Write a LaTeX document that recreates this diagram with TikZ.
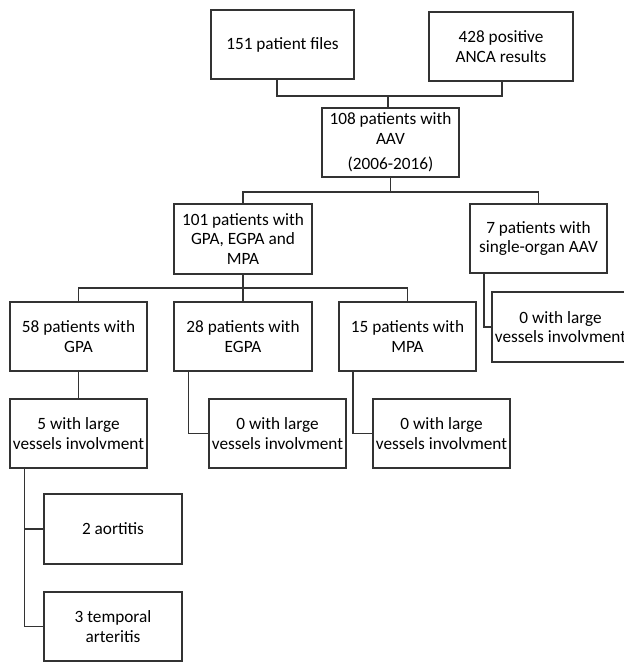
\documentclass[tikz,border=0pt]{standalone}
\usepackage{fontspec}
\setmainfont{Carlito}
\begin{document}
\begin{tikzpicture}[x=1bp,y=-1bp,
  box/.style={draw=black!80, line width=1.1bp, minimum width=137bp, minimum height=69bp,
    inner sep=0pt, align=center, font=\fontsize{17.25bp}{19.5bp}\selectfont},
  conn/.style={draw=black!80, line width=1.1bp}]
\useasboundingbox (0,0) rectangle (624,662);
\fill[white] (0,0) rectangle (624,662);
% boxes
\node[box, minimum width=143bp] (A) at (282.5,44.5) {151 patient files};
\node[box, minimum width=144bp] (B) at (501,46.5) {428 positive\\ANCA results};
\node[box] (C) at (390.5,142.5) {108 patients with\\AAV\\[6bp](2006-2016)};
\node[box, minimum width=138bp, minimum height=70bp] (D) at (243,239) {101 patients with\\GPA, EGPA and\\MPA};
\node[box] (E) at (538.5,238.5) {7 patients with\\single-organ AAV};
\node[box] (F) at (78.5,336.5) {58 patients with\\GPA};
\node[box, minimum width=138bp] (G) at (243,336.5) {28 patients with\\EGPA};
\node[box] (H) at (407.5,336.5) {15 patients with\\MPA};
\node[box, minimum height=70bp] (I) at (560.5,327) {0 with large\\vessels involvment};
\node[box] (J) at (78.5,433.5) {5 with large\\vessels involvment};
\node[box] (K) at (277.5,433.5) {0 with large\\vessels involvment};
\node[box] (L) at (441.5,433.5) {0 with large\\vessels involvment};
\node[box, minimum width=138bp, minimum height=70bp] (M) at (113,529) {2 aortitis};
\node[box, minimum width=138bp] (N) at (113,626.5) {3 temporal\\arteritis};
% junctions
\coordinate (a1) at (277,96);
\coordinate (b1) at (502,96);
\coordinate (j1) at (388,96);
\coordinate (j2) at (390.5,192);
\coordinate (j3) at (243,288);
\coordinate (e1) at (484,327);
\coordinate (g1) at (188.5,433.5);
\coordinate (h1) at (353,433.5);
\coordinate (j4) at (24.5,468);
% connectors
\draw[conn] (A.south -| a1) -- (a1) -- (b1) -- (B.south -| b1);
\draw[conn] (j1) -- (j1 |- C.north);
\draw[conn] (C.south) -- (j2);
\draw[conn] (D.north) |- (j2) -| (E.north);
\draw[conn] (D.south) -- (j3);
\draw[conn] (F.north) |- (j3) -| (H.north);
\draw[conn] (j3) -- (G.north);
\draw[conn] (E.south -| e1) -- (e1) -- (I.west);
\draw[conn] (F.south) -- (J.north);
\draw[conn] (G.south -| g1) -- (g1) -- (K.west);
\draw[conn] (H.south -| h1) -- (h1) -- (L.west);
\draw[conn] (j4) |- (N.west);
\draw[conn] (M.west) -- (M.west -| j4);
\end{tikzpicture}
\end{document}
